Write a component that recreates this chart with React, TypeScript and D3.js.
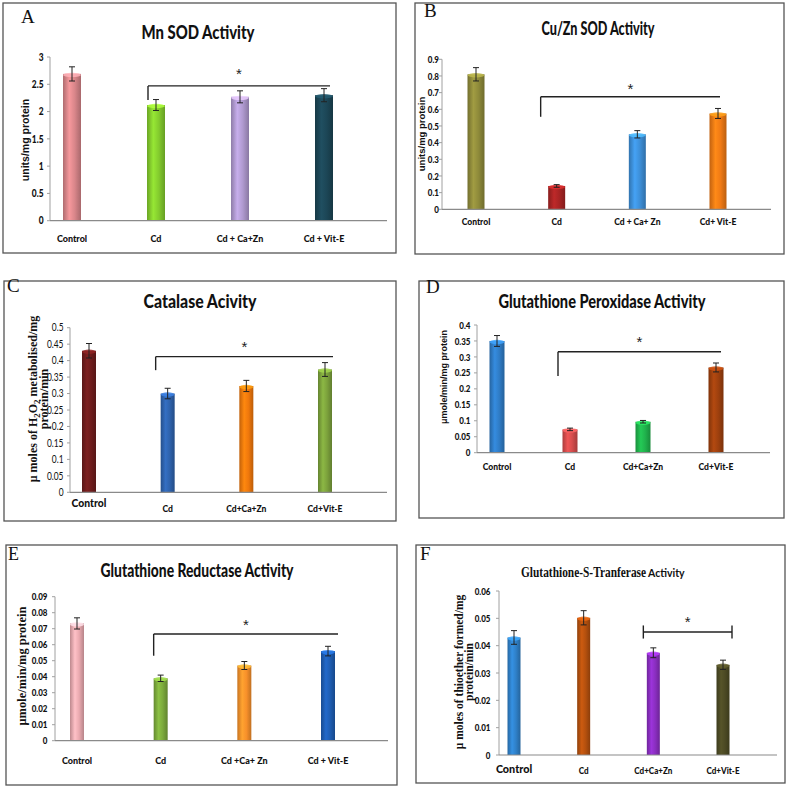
import React from "react";
import * as d3 from "d3";

// ---------- DATA ----------
const labelsA = ["Control", "Cd", "Cd + Ca+Zn", "Cd + Vit-E"];
const valuesA = [2.69, 2.12, 2.27, 2.3];
const errorsA = [0.13, 0.1, 0.11, 0.12];
const ticksA = [0, 0.5, 1, 1.5, 2, 2.5, 3];

const labelsB = ["Control", "Cd", "Cd + Ca+ Zn", "Cd+ Vit-E"];
const valuesB = [0.81, 0.14, 0.45, 0.575];
const errorsB = [0.04, 0.008, 0.022, 0.03];
const ticksB = [0, 0.1, 0.2, 0.3, 0.4, 0.5, 0.6, 0.7, 0.8, 0.9];

const labelsC = ["Control", "Cd", "Cd+Ca+Zn", "Cd+Vit-E"];
const valuesC = [0.43, 0.3, 0.323, 0.373];
const errorsC = [0.022, 0.016, 0.017, 0.021];
const ticksC = [0, 0.05, 0.1, 0.15, 0.2, 0.25, 0.3, 0.35, 0.4, 0.45, 0.5];

const labelsD = ["Control", "Cd", "Cd+Ca+Zn", "Cd+Vit-E"];
const valuesD = [0.35, 0.073, 0.097, 0.267];
const errorsD = [0.017, 0.004, 0.004, 0.014];
const ticksD = [0, 0.05, 0.1, 0.15, 0.2, 0.25, 0.3, 0.35, 0.4];

const labelsE = ["Control", "Cd", "Cd +Ca+ Zn", "Cd + Vit-E"];
const valuesE = [0.0733, 0.039, 0.047, 0.056];
const errorsE = [0.0035, 0.002, 0.0025, 0.003];
const ticksE = [0, 0.01, 0.02, 0.03, 0.04, 0.05, 0.06, 0.07, 0.08, 0.09];

const labelsF = ["Control", "Cd", "Cd+Ca+Zn", "Cd+Vit-E"];
const valuesF = [0.043, 0.0502, 0.0374, 0.033];
const errorsF = [0.0025, 0.0026, 0.0018, 0.0017];
const ticksF = [0, 0.01, 0.02, 0.03, 0.04, 0.05, 0.06];

const titlesList = [
  "Mn SOD Activity",
  "Cu/Zn SOD Activity",
  "Catalase Acivity",
  "Glutathione Peroxidase Activity",
  "Glutathione Reductase Activity",
  "Glutathione-S-Tranferase",
];
const titleSuffixF = "Activity";

// ---------- STYLE / LAYOUT ----------
const colorsA = ["#d9868a", "#84cc2e", "#b09ad0", "#1c4656"];
const colorsB = ["#8e8a3a", "#a82424", "#3d8fd8", "#f07a14"];
const colorsC = ["#6e1c1c", "#2e62ac", "#f0780c", "#7ca23c"];
const colorsD = ["#2f7cc6", "#d44c4c", "#20b24c", "#9e400e"];
const colorsE = ["#eaaab0", "#7caa3c", "#f8902a", "#1e5db2"];
const colorsF = ["#2f80c8", "#b4500e", "#8a2ec0", "#4c4a24"];

const SANS = "Lato, 'Open Sans', sans-serif";
const TITLE = "Lato, 'Open Sans', sans-serif";
const SERIF = "'Liberation Serif', 'DejaVu Serif', serif";
const ARIAL = "'Liberation Sans', Arial, sans-serif";
const TICK_COND = 0.8;
const LABEL_COND = 0.9;

type Layout = {
  id: string;
  box: [number, number, number, number];
  letter: string;
  letterPos: [number, number];
  letterSize: number;
  title: number;
  titlePos: [number, number];
  titleLen: number;
  titleSize: number;
  axisX: number;
  axisEnd: number;
  yRange: [number, number];
  xRange: [number, number];
  barW: number;
  tickRight: number;
  tickSize: number;
  tickBold: boolean;
  labelY: number;
  labelSize: number;
  firstLabel?: { size: number; y: number };
  yLabel: string[];
  yLabelX: number[];
  yLabelY: number;
  yLabelFont: string;
  yLabelSize: number;
  bracket: { y: number; drop: number; from: number; to: number; dx0: number; dx1: number; both: boolean; star: number };
};

const layoutA: Layout = {
  id: "A", box: [3, 3, 396, 253], letter: "A", letterPos: [21, 23], letterSize: 19,
  title: 0, titlePos: [198, 38.5], titleLen: 113, titleSize: 19,
  axisX: 50, axisEnd: 387, yRange: [220.7, 57], xRange: [72, 324], barW: 18,
  tickRight: 43.5, tickSize: 10.5, tickBold: true, labelY: 242, labelSize: 10,
  yLabel: ["units/mg protein"], yLabelX: [28.5], yLabelY: 140, yLabelFont: ARIAL, yLabelSize: 10.5,
  bracket: { y: 2.47, drop: 2.21, from: 1, to: 3, dx0: -8, dx1: 6, both: false, star: 2.73 },
};
const layoutB: Layout = {
  id: "B", box: [415, 3, 784, 254], letter: "B", letterPos: [424, 17], letterSize: 19,
  title: 1, titlePos: [598, 34.5], titleLen: 113, titleSize: 19,
  axisX: 442, axisEnd: 771, yRange: [209.3, 59.3], xRange: [476, 718], barW: 17,
  tickRight: 439, tickSize: 10, tickBold: true, labelY: 225, labelSize: 9.5,
  yLabel: ["units/mg protein"], yLabelX: [425], yLabelY: 134, yLabelFont: ARIAL, yLabelSize: 9.5,
  bracket: { y: 0.675, drop: 0.555, from: 1, to: 3, dx0: -16, dx1: 2, both: false, star: 0.733 },
};
const layoutC: Layout = {
  id: "C", box: [4, 281, 396, 521], letter: "C", letterPos: [7, 292], letterSize: 19,
  title: 2, titlePos: [200, 308], titleLen: 113, titleSize: 19,
  axisX: 70, axisEnd: 387, yRange: [492.3, 327.7], xRange: [89, 325], barW: 14,
  tickRight: 63.5, tickSize: 10.5, tickBold: false, labelY: 512, labelSize: 9.5,
  firstLabel: { size: 11.5, y: 507 },
  yLabel: ["μ moles of H₂O₂ metabolised/mg", "protein/min"], yLabelX: [37, 47.5], yLabelY: 399,
  yLabelFont: SERIF, yLabelSize: 12,
  bracket: { y: 0.412, drop: 0.371, from: 1, to: 3, dx0: -12, dx1: 8, both: false, star: 0.447 },
};
const layoutD: Layout = {
  id: "D", box: [419, 281, 784, 518], letter: "D", letterPos: [426, 293], letterSize: 19,
  title: 3, titlePos: [602, 308], titleLen: 207, titleSize: 18,
  axisX: 477, axisEnd: 770, yRange: [452.7, 325], xRange: [497, 716], barW: 15,
  tickRight: 470.5, tickSize: 10, tickBold: true, labelY: 470, labelSize: 9.5,
  yLabel: ["μmole/min/mg protein"], yLabelX: [446.5], yLabelY: 377, yLabelFont: ARIAL, yLabelSize: 9,
  bracket: { y: 0.316, drop: 0.24, from: 1, to: 3, dx0: -12, dx1: 5, both: false, star: 0.353 },
};
const layoutE: Layout = {
  id: "E", box: [6, 545, 397, 785], letter: "E", letterPos: [8, 560], letterSize: 18,
  title: 4, titlePos: [197, 576.5], titleLen: 193, titleSize: 19,
  axisX: 55, axisEnd: 388, yRange: [740.7, 596.7], xRange: [77, 328], barW: 14,
  tickRight: 47.5, tickSize: 10, tickBold: true, labelY: 763.5, labelSize: 10,
  yLabel: ["μmole/min/mg  protein"], yLabelX: [26], yLabelY: 666, yLabelFont: SERIF, yLabelSize: 12.5,
  bracket: { y: 0.0667, drop: 0.0531, from: 1, to: 3, dx0: -7, dx1: 10, both: false, star: 0.0736 },
};
const layoutF: Layout = {
  id: "F", box: [416, 545, 785, 783], letter: "F", letterPos: [420, 560], letterSize: 19,
  title: 5, titlePos: [602, 577], titleLen: 162, titleSize: 15,
  axisX: 499, axisEnd: 777, yRange: [755, 591], xRange: [514, 723], barW: 13,
  tickRight: 490.5, tickSize: 10, tickBold: true, labelY: 773.5, labelSize: 9,
  firstLabel: { size: 12, y: 772.5 },
  yLabel: ["μ moles of thioether formed/mg", "protein/min"], yLabelX: [463, 473], yLabelY: 672,
  yLabelFont: SERIF, yLabelSize: 11.5,
  bracket: { y: 0.045, drop: 0.0426, from: 2, to: 3, dx0: -10, dx1: 9, both: true, star: 0.0494 },
};

const fmt = (v: number) => String(Number(v.toFixed(3)));

function CText({ x, y, anchor, size, bold, cond, children }: {
  x: number; y: number; anchor: string; size: number; bold: boolean; cond: number; children: React.ReactNode;
}) {
  return (
    <text transform={`translate(${x},${y}) scale(${cond},1)`} textAnchor={anchor as any}
      fontFamily={SANS} fontWeight={bold ? 900 : "normal"} fontSize={size} fill="#111">{children}</text>
  );
}

function Title({ L }: { L: Layout }) {
  const [cx, by] = L.titlePos;
  const x0 = cx - L.titleLen / 2;
  if (L.id === "F") {
    return (
      <g>
        <text transform={`translate(${x0},${by}) scale(0.76,1)`} fontFamily={SERIF} fontWeight="bold"
          fontSize={L.titleSize} fill="#111">{titlesList[L.title]}</text>
        <text x={x0 + 127} y={by} fontFamily={TITLE} fontWeight="bold" fontSize={10.5} fill="#111">{titleSuffixF}</text>
      </g>
    );
  }
  return (
    <text x={x0} y={by} fontFamily={TITLE} fontWeight={900} fontSize={L.titleSize}
      textLength={L.titleLen} lengthAdjust="spacingAndGlyphs" fill="#111">{titlesList[L.title]}</text>
  );
}

function YLabelLine({ s, L, i }: { s: string; L: Layout; i: number }) {
  const segs: { t: string; sub: boolean }[] = [];
  for (const ch of s) {
    const sub = ch === "₂";
    const c = sub ? "2" : ch;
    const last = segs[segs.length - 1];
    if (last && last.sub === sub) last.t += c;
    else segs.push({ t: c, sub });
  }
  let prevSub = false;
  return (
    <text transform={`translate(${L.yLabelX[i]},${L.yLabelY}) rotate(-90)`} textAnchor="middle"
      fontFamily={L.yLabelFont} fontWeight="bold" fontSize={L.yLabelSize} fill="#111">
      {segs.map((sg, k) => {
        const dy = sg.sub ? 3 : prevSub ? -3 : 0;
        prevSub = sg.sub;
        return (
          <tspan key={k} dy={dy || undefined} fontSize={sg.sub ? L.yLabelSize * 0.75 : undefined}>{sg.t}</tspan>
        );
      })}
    </text>
  );
}

function Panel({ L, labels, values, errors, ticks, colors }: {
  L: Layout; labels: string[]; values: number[]; errors: number[]; ticks: number[]; colors: string[];
}) {
  const yMax = ticks[ticks.length - 1];
  const y = d3.scaleLinear().domain([0, yMax]).range(L.yRange);
  const x = d3.scalePoint<string>().domain(labels).range(L.xRange);
  const [bx0, by0, bx1, by1] = L.box;
  const b = L.bracket;
  const xb0 = (x(labels[b.from]) as number) + b.dx0;
  const xb1 = (x(labels[b.to]) as number) + b.dx1;
  const yb = y(b.y);
  return (
    <g>
      <defs>
        {colors.map((c, i) => {
          const base = d3.color(c)!;
          return (
            <linearGradient key={i} id={`g${L.id}${i}`} x1="0" x2="1" y1="0" y2="0">
              <stop offset="0%" stopColor={base.darker(0.6).formatHex()} />
              <stop offset="35%" stopColor={base.brighter(0.35).formatHex()} />
              <stop offset="65%" stopColor={c} />
              <stop offset="100%" stopColor={base.darker(0.7).formatHex()} />
            </linearGradient>
          );
        })}
      </defs>
      <rect x={bx0} y={by0} width={bx1 - bx0} height={by1 - by0} fill="#fff" stroke="#555" strokeWidth={1.3} />
      <text x={L.letterPos[0]} y={L.letterPos[1]} fontFamily={SERIF} fontSize={L.letterSize} fill="#111">{L.letter}</text>
      <Title L={L} />
      {/* y axis */}
      <line x1={L.axisX} x2={L.axisX} y1={y(0)} y2={y(yMax)} stroke="#a0a0a0" strokeWidth={1} />
      {ticks.map((t) => (
        <g key={t}>
          <line x1={L.axisX - 3} x2={L.axisX} y1={y(t)} y2={y(t)} stroke="#a0a0a0" />
          <CText x={L.tickRight} y={y(t) + L.tickSize * 0.36} anchor="end" size={L.tickSize}
            bold={L.tickBold} cond={TICK_COND}>{fmt(t)}</CText>
        </g>
      ))}
      {/* bars */}
      {values.map((v, i) => {
        const cx = x(labels[i]) as number;
        const top = y(v);
        const c = d3.color(colors[i])!;
        return (
          <g key={i}>
            <rect x={cx - L.barW / 2} y={top} width={L.barW} height={y(0) - top} fill={`url(#g${L.id}${i})`} />
            <ellipse cx={cx} cy={top + 1} rx={L.barW / 2} ry={2.2} fill={c.brighter(0.8).formatHex()} opacity={0.85} />
          </g>
        );
      })}
      {/* error bars */}
      {values.map((v, i) => {
        const cx = x(labels[i]) as number;
        const yt = y(v + errors[i]);
        const yl = y(v - errors[i]);
        return (
          <g key={i} stroke="#222" strokeWidth={1}>
            <line x1={cx} x2={cx} y1={yt} y2={yl} />
            <line x1={cx - 3} x2={cx + 3} y1={yt} y2={yt} />
            <line x1={cx - 3} x2={cx + 3} y1={yl} y2={yl} />
          </g>
        );
      })}
      {/* x axis */}
      <line x1={L.axisX} x2={L.axisEnd} y1={y(0)} y2={y(0)} stroke="#8a8a8a" strokeWidth={1.2} />
      {labels.map((lab, i) => {
        const first = i === 0 && L.firstLabel;
        return (
          <CText key={lab} x={x(lab) as number} y={first ? L.firstLabel!.y : L.labelY} anchor="middle"
            size={first ? L.firstLabel!.size : L.labelSize} bold={true} cond={LABEL_COND}>{lab}</CText>
        );
      })}
      {/* y label */}
      {L.yLabel.map((s, i) => <YLabelLine key={i} s={s} L={L} i={i} />)}
      {/* significance bracket */}
      <g stroke="#222" strokeWidth={1.4} fill="none">
        <line x1={xb0} x2={xb1} y1={yb} y2={yb} />
        {b.both ? (
          <>
            <line x1={xb0} x2={xb0} y1={y(b.y + (b.y - b.drop))} y2={y(b.drop)} />
            <line x1={xb1} x2={xb1} y1={y(b.y + (b.y - b.drop))} y2={y(b.drop)} />
          </>
        ) : (
          <line x1={xb0} x2={xb0} y1={yb} y2={y(b.drop)} />
        )}
      </g>
      <text x={(xb0 + xb1) / 2} y={y(b.star) + 7} textAnchor="middle" fontFamily={ARIAL} fontSize={15} fill="#222">*</text>
    </g>
  );
}

export default function App() {
  return (
    <svg width={791} height={788} style={{ position: "absolute", left: 0, top: 0, background: "#fff" }}>
      <rect width={791} height={788} fill="#fff" />
      <Panel L={layoutA} labels={labelsA} values={valuesA} errors={errorsA} ticks={ticksA} colors={colorsA} />
      <Panel L={layoutB} labels={labelsB} values={valuesB} errors={errorsB} ticks={ticksB} colors={colorsB} />
      <Panel L={layoutC} labels={labelsC} values={valuesC} errors={errorsC} ticks={ticksC} colors={colorsC} />
      <Panel L={layoutD} labels={labelsD} values={valuesD} errors={errorsD} ticks={ticksD} colors={colorsD} />
      <Panel L={layoutE} labels={labelsE} values={valuesE} errors={errorsE} ticks={ticksE} colors={colorsE} />
      <Panel L={layoutF} labels={labelsF} values={valuesF} errors={errorsF} ticks={ticksF} colors={colorsF} />
    </svg>
  );
}
